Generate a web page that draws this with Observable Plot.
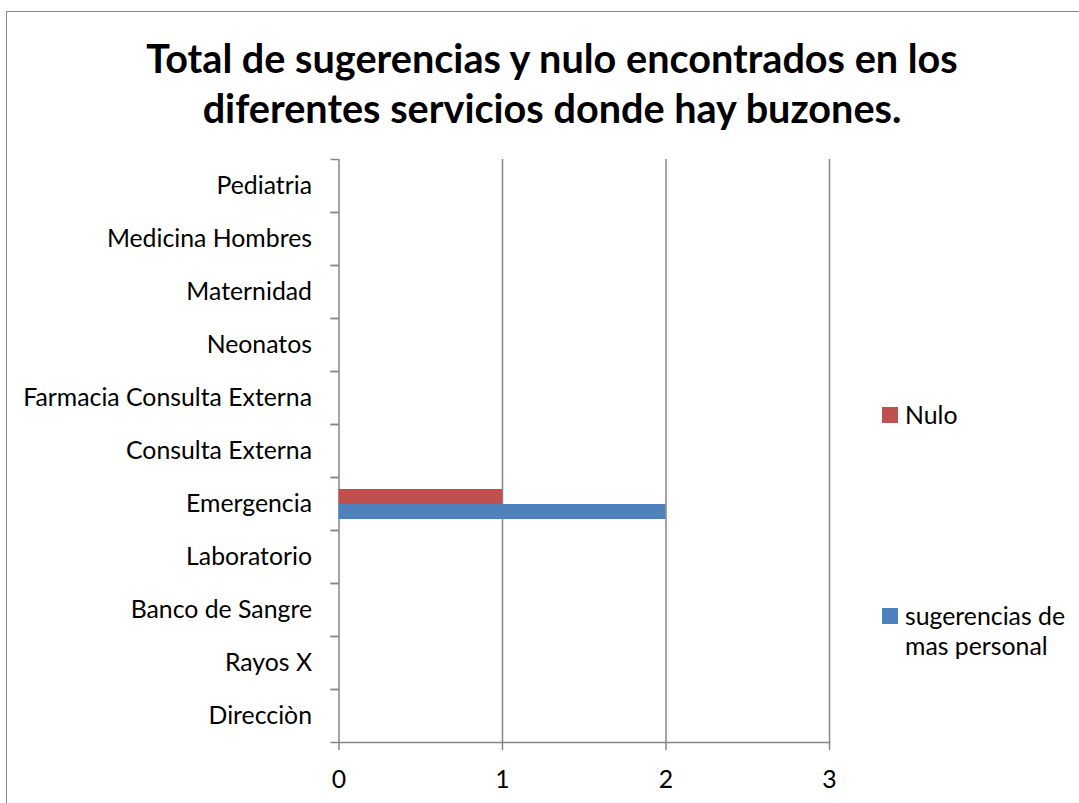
<!DOCTYPE html>
<html>
<head>
<meta charset="utf-8">
<script src="https://cdn.jsdelivr.net/npm/d3@7"></script>
<script src="https://cdn.jsdelivr.net/npm/@observablehq/plot@0.6"></script>
<style>
  html, body { margin: 0; padding: 0; background: #fff; }
  #wrap { position: relative; width: 1079px; height: 803px; overflow: hidden; font-family: Lato, "Open Sans", sans-serif; color: #000; }
  #border { position: absolute; left: 6px; top: 11px; width: 1200px; height: 1000px; border: 1.5px solid #868686; box-sizing: border-box; }
  #title { position: absolute; left: 0; top: 0; }
  #chart { position: absolute; left: 0; top: 140px; }
  .lg-sw { position: absolute; width: 16px; height: 16px; }
  .lg-tx { position: absolute; line-height: 30px; width: 172px; }
</style>
</head>
<body>
<div id="wrap">
  <div id="border"></div>
  <svg id="title" width="1079" height="140"></svg>
  <div id="chart"></div>
  <div id="legend"></div>
</div>
<script>
const categories = ["Pediatria", "Medicina Hombres", "Maternidad", "Neonatos", "Farmacia Consulta Externa", "Consulta Externa", "Emergencia", "Laboratorio", "Banco de Sangre", "Rayos X", "Direcciòn"];
const seriesNames = ["Nulo", "sugerencias de mas personal"];
const nuloValues = [0, 0, 0, 0, 0, 0, 1, 0, 0, 0, 0];
const sugerenciasValues = [0, 0, 0, 0, 0, 0, 2, 0, 0, 0, 0];
const xTicks = [0, 1, 2, 3];
const seriesColors = ["#C0504D", "#4F81BD"];
const titleLines = ["Total de sugerencias y nulo encontrados en los", "diferentes servicios donde hay buzones."];

const data = categories.flatMap((c, i) => [
  {category: c, series: seriesNames[0], value: nuloValues[i]},
  {category: c, series: seriesNames[1], value: sugerenciasValues[i]}
]);

// font fitting
const ctx = document.createElement("canvas").getContext("2d");
function fit(text, weight, target) {
  ctx.font = `${weight} 100px Lato`;
  return 100 * target / ctx.measureText(text).width;
}
const tickFont = fit("Farmacia Consulta Externa", 400, 289);
const titleFont = (fit(titleLines[0], 700, 814) + fit(titleLines[1], 700, 700)) / 2;

// title
const tsvg = d3.select("#title");
tsvg.selectAll("text").data(titleLines).join("text")
  .attr("x", 552)
  .attr("y", (d, i) => i === 0 ? 72.5 : 122.5)
  .attr("text-anchor", "middle")
  .attr("font-family", "Lato, 'Open Sans', sans-serif")
  .attr("font-weight", 700)
  .attr("font-size", titleFont)
  .attr("fill", "#000")
  .text(d => d);

const axisColor = "#868686";
const mT = 19, plotH = 583, mB = 58;
const step = plotH / categories.length;

const chart = Plot.plot({
  width: 1079,
  height: mT + plotH + mB,
  marginLeft: 338.5,
  marginRight: 250,
  marginTop: mT,
  marginBottom: mB,
  style: {fontFamily: "Lato, 'Open Sans', sans-serif", fontSize: tickFont + "px", color: "#000", background: "transparent"},
  x: {domain: [0, 3], label: null},
  fy: {domain: categories, padding: 0, label: null, axis: null},
  y: {domain: seriesNames, paddingInner: 0, paddingOuter: 0.71, axis: null},
  color: {domain: seriesNames, range: seriesColors},
  marks: [
    Plot.gridX(xTicks, {stroke: axisColor, strokeOpacity: 1, strokeWidth: 1.5}),
    Plot.barX(data, {x: "value", y: "series", fy: "category", fill: "series"}),
    Plot.frame({anchor: "bottom", fy: ["Direcciòn"], stroke: axisColor, strokeWidth: 1.5}),
    Plot.axisFy({anchor: "left", tickSize: 0, tickPadding: 27, fontSize: tickFont, label: null, fill: "#000"}),
    Plot.axisFy({anchor: "left", text: null, tickSize: 8, dy: -step / 2, stroke: axisColor, strokeWidth: 1.5, label: null}),
    Plot.axisFy({anchor: "left", text: null, tickSize: 8, dy: step / 2, stroke: axisColor, strokeWidth: 1.5, label: null}),
    Plot.axisX({anchor: "bottom", ticks: xTicks, tickFormat: d => String(d), tickSize: 8, tickPadding: 20, fontSize: tickFont, stroke: axisColor, strokeWidth: 1.5, fill: "#000", label: null})
  ]
});
document.getElementById("chart").appendChild(chart);

// legend
const legend = document.getElementById("legend");
const legendItems = [
  {name: seriesNames[0], color: seriesColors[0], swTop: 407, textCenter: 417},
  {name: seriesNames[1], color: seriesColors[1], swTop: 608, textCenter: 618}
];
legendItems.forEach(it => {
  const sw = document.createElement("div");
  sw.className = "lg-sw";
  sw.style.left = "882px"; sw.style.top = it.swTop + "px"; sw.style.background = it.color;
  legend.appendChild(sw);
  const tx = document.createElement("div");
  tx.className = "lg-tx";
  tx.style.left = "905px"; tx.style.top = (it.textCenter - 17) + "px"; tx.style.fontSize = tickFont + "px";
  tx.textContent = it.name;
  legend.appendChild(tx);
});
</script>
</body>
</html>
